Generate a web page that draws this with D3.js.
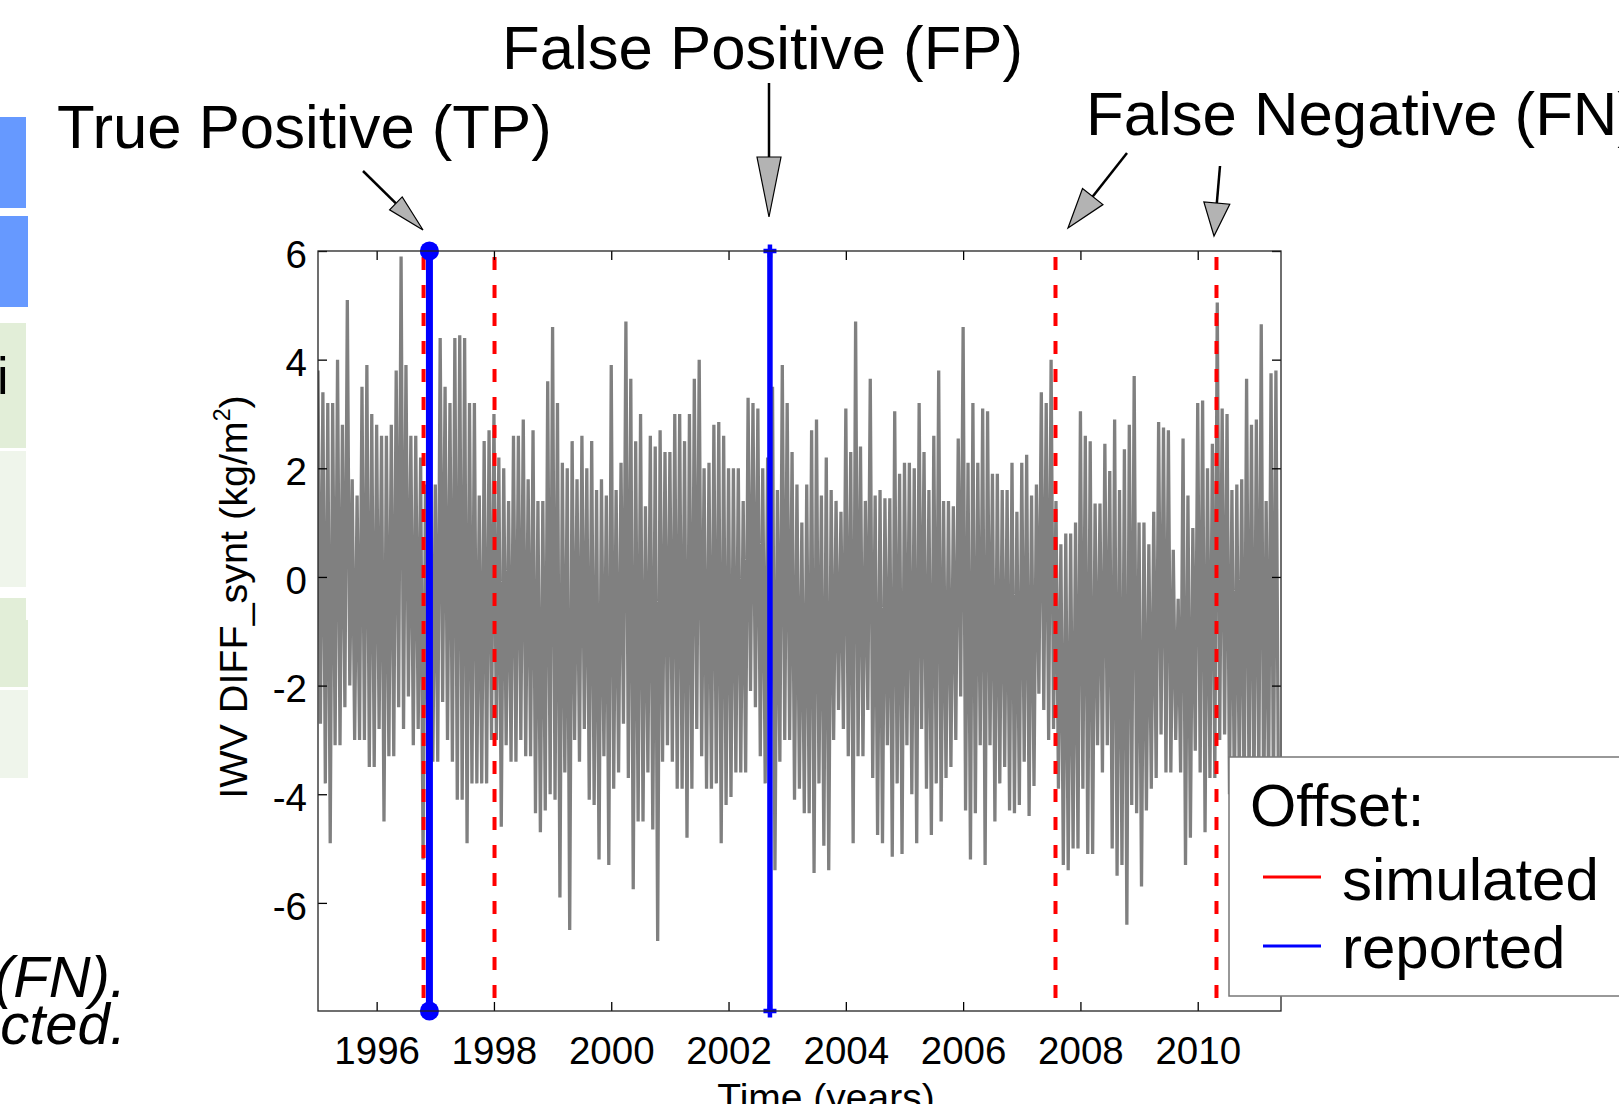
<!DOCTYPE html>
<html>
<head>
<meta charset="utf-8">
<script src="https://cdn.jsdelivr.net/npm/d3@7"></script>
<style>
    body { margin: 0; background: #fff; overflow: hidden; }
    svg { display: block; font-family: "Liberation Sans", Arial, Helvetica, sans-serif; }
</style>
</head>
<body>
<svg id="chart" width="1619" height="1104"></svg>
<script>
// monthly max / min of the synthetic IWV difference series, Jan 1995 onwards
var startYear = 1995;
var monthHigh = [
    3.8, 3.4, 3.2, 3.2, 4.0, 2.8, 5.1, 1.8, 1.5, 3.5,
    3.9, 3.0, 2.8, 2.6, 2.6, 2.8, 3.8, 5.9, 3.9, 2.6,
    2.6, 2.2, 1.7, 1.7, 1.7, 4.4, 3.5, 3.2, 4.4, 4.45,
    4.4, 3.2, 3.2, 1.5, 2.5, 2.7, 3.0, 2.2, 2.0, 1.4,
    2.6, 2.6, 2.9, 1.8, 2.7, 1.4, 1.4, 3.6, 4.6, 3.2,
    2.1, 2.0, 2.5, 1.8, 2.6, 2.0, 2.5, 1.6, 1.8, 1.5,
    3.9, 1.6, 2.1, 4.7, 3.65, 2.5, 3.0, 1.3, 2.6, 2.4,
    2.7, 2.3, 2.3, 3.0, 3.0, 2.5, 3.0, 3.65, 4.0, 2.0,
    2.1, 2.8, 2.85, 2.6, 2.0, 2.0, 2.0, 1.4, 3.3, 3.2,
    3.1, 2.0, 2.2, 3.5, 1.6, 3.9, 3.2, 2.3, 1.7, 1.0,
    1.7, 2.7, 2.9, 1.5, 2.2, 1.6, 1.4, 1.2, 3.1, 2.3,
    4.7, 2.4, 1.4, 3.65, 1.5, 1.6, 1.45, 1.45, 3.05, 1.9,
    2.1, 2.1, 2.0, 3.2, 2.3, 1.6, 2.6, 3.8, 1.4, 1.4,
    1.3, 2.55, 4.6, 2.1, 3.2, 2.1, 3.1, 3.05, 1.9, 1.9,
    1.6, 1.6, 2.1, 1.2, 2.1, 2.25, 1.5, 1.7, 3.4, 3.2,
    4.0, 1.4, 0.6, 0.8, 0.8, 1.0, 3.05, 2.6, 2.5, 1.35,
    1.35, 2.45, 1.95, 2.9, 1.6, 2.35, 2.8, 3.7, 1.0, 1.0,
    0.6, 1.2, 2.85, 2.75, 2.7, 0.5, -0.4, 2.55, 1.5, 0.9,
    3.2, 3.25, 2.0, 2.45, 5.05, 3.1, 3.0, 1.6, 1.7, 1.8,
    3.65, 2.8, 2.9, 4.65, 1.4, 3.75, 3.8
];
var monthLow = [
    -2.7, -3.8, -4.9, -3.1, -3.1, -2.4, -2.0, -3.0, -3.0, -3.0,
    -3.5, -3.5, -2.8, -4.5, -3.3, -3.3, -2.4, -2.8, -2.2, -3.1,
    -2.8, -5.2, -3.3, -3.4, -3.4, -2.3, -3.0, -3.4, -4.1, -4.1,
    -4.9, -3.8, -3.8, -3.8, -3.8, -3.0, -3.0, -4.6, -3.1, -3.4,
    -3.4, -3.0, -3.3, -3.3, -4.35, -4.7, -4.3, -4.0, -4.1, -5.9,
    -3.6, -6.5, -3.0, -3.4, -2.8, -4.1, -4.2, -5.2, -3.3, -5.3,
    -3.9, -3.6, -2.7, -3.7, -5.75, -4.5, -4.5, -3.6, -4.65, -6.7,
    -3.4, -3.1, -3.4, -3.9, -3.9, -4.8, -3.9, -2.8, -3.3, -3.9,
    -3.9, -3.8, -4.9, -4.2, -4.05, -3.6, -3.6, -3.6, -2.1, -2.4,
    -3.3, -3.8, -3.7, -5.4, -3.4, -3.0, -3.0, -4.1, -3.9, -4.35,
    -4.35, -5.45, -3.8, -4.95, -5.4, -3.0, -2.45, -2.8, -3.3, -4.9,
    -3.3, -3.3, -2.45, -3.7, -4.75, -4.9, -3.1, -5.15, -3.8, -5.1,
    -3.1, -4.0, -4.9, -2.8, -3.9, -4.75, -3.8, -4.5, -3.7, -3.5,
    -3.0, -2.2, -4.3, -5.2, -4.35, -3.1, -5.3, -3.1, -4.5, -3.8,
    -3.5, -4.3, -4.35, -4.2, -3.4, -4.4, -3.85, -2.15, -2.45, -3.0,
    -2.8, -3.9, -5.3, -5.4, -5.0, -5.0, -3.9, -5.1, -5.1, -3.1,
    -3.6, -3.1, -5.0, -5.5, -5.3, -6.4, -4.2, -4.35, -5.7, -4.3,
    -3.9, -3.7, -2.9, -3.6, -3.6, -3.0, -3.6, -5.3, -4.8, -3.2,
    -3.6, -4.7, -3.7, -3.7, -3.0, -2.9, -4.0, -4.2, -3.8, -4.4,
    -4.0, -4.3, -3.9, -4.5, -4.0, -4.2, -3.8
];

// offsets (decimal years)
var simulatedOffsets = [1996.8, 1998.01, 2007.575, 2010.32];
var reportedOffsets = [1996.9, 2002.706];
var reportedKind = ["TP", "FP"];

var xTicks = [1996, 1998, 2000, 2002, 2004, 2006, 2008, 2010];
var yTicks = [-6, -4, -2, 0, 2, 4, 6];
var legendLabels = ["simulated", "reported"];

var svg = d3.select("#chart");

// ---- left edge of the slide (cropped neighbour content) ----
var slideBoxes = [
    {x: 0, y: 117, w: 26, h: 91, c: "#6699ff"},
    {x: 0, y: 216, w: 28, h: 91, c: "#6699ff"},
    {x: 0, y: 323, w: 26, h: 125, c: "#e2eed8"},
    {x: 0, y: 451, w: 26, h: 136, c: "#eff5eb"},
    {x: 0, y: 598, w: 26, h: 22, c: "#e2eed8"},
    {x: 0, y: 620, w: 28, h: 67, c: "#e2eed8"},
    {x: 0, y: 690, w: 28, h: 88, c: "#eff5eb"}
];
svg.selectAll("rect.slide").data(slideBoxes).enter().append("rect")
    .attr("class", "slide")
    .attr("x", d => d.x).attr("y", d => d.y)
    .attr("width", d => d.w).attr("height", d => d.h)
    .attr("fill", d => d.c);
svg.append("text").attr("x", -3).attr("y", 394).attr("font-size", 52).text("i");
svg.append("text").attr("x", 126).attr("y", 997).attr("font-size", 58)
    .attr("font-style", "italic").attr("text-anchor", "end").text("(FN).");
svg.append("text").attr("x", 126).attr("y", 1044).attr("font-size", 58)
    .attr("font-style", "italic").attr("text-anchor", "end").text("cted.");

// ---- axes area ----
var plotL = 318, plotR = 1281, plotT = 251, plotB = 1011;
var x = d3.scaleLinear().domain([1995, 2011.42]).range([plotL, plotR]);
var y = d3.scaleLinear().domain([-7.99, 6]).range([plotB, plotT]);

svg.append("clipPath").attr("id", "plotclip").append("rect")
    .attr("x", plotL).attr("y", plotT).attr("width", plotR - plotL).attr("height", plotB - plotT);

// series: each month goes up to its max and down to its min
var pts = [];
for (var m = 0; m < monthHigh.length; m++) {
    var t = startYear + m / 12;
    pts.push([t, monthHigh[m]]);
    pts.push([t + 1 / 24, monthLow[m]]);
}
var line = d3.line().x(d => x(d[0])).y(d => y(d[1]));
svg.append("path")
    .attr("clip-path", "url(#plotclip)")
    .attr("d", line(pts))
    .attr("fill", "none")
    .attr("stroke", "#808080")
    .attr("stroke-width", 3.3)
    .attr("stroke-linejoin", "bevel");

// simulated offsets
svg.selectAll("line.sim").data(simulatedOffsets).enter().append("line")
    .attr("class", "sim")
    .attr("x1", d => x(d)).attr("x2", d => x(d))
    .attr("y1", y(6)).attr("y2", y(-7.99))
    .attr("stroke", "#ff0000").attr("stroke-width", 4)
    .attr("stroke-dasharray", "13,15").attr("stroke-dashoffset", -6);

// reported offsets
reportedOffsets.forEach(function (d, i) {
    var xx = x(d);
    var tp = reportedKind[i] == "TP";
    svg.append("line")
        .attr("x1", xx).attr("x2", xx).attr("y1", y(6)).attr("y2", y(-7.99))
        .attr("stroke", "#0000ff").attr("stroke-width", tp ? 7 : 5.5);
    [y(6), y(-7.99)].forEach(function (yy) {
        if (tp) {
            svg.append("circle").attr("cx", xx).attr("cy", yy).attr("r", 9.5).attr("fill", "#0000ff");
        } else {
            svg.append("path").attr("d", "M" + (xx - 6.5) + "," + yy + "h13M" + xx + "," + (yy - 6.5) + "v13")
                .attr("stroke", "#0000ff").attr("stroke-width", 4.5);
        }
    });
});

// ticks (inward, on all four sides, MATLAB style)
function styleAxis(g, labels) {
    g.select(".domain").remove();
    g.selectAll(".tick line").attr("stroke", "#000").attr("stroke-width", 1.3);
    if (!labels) g.selectAll(".tick text").remove();
    else g.selectAll(".tick text").attr("font-size", 38.5).attr("fill", "#000").attr("font-family", null);
}
svg.append("g").attr("transform", "translate(0," + plotB + ")")
    .call(d3.axisBottom(x).tickValues(xTicks).tickFormat(d3.format("d")).tickSizeInner(-9).tickSizeOuter(0).tickPadding(26))
    .call(g => styleAxis(g, true));
svg.append("g").attr("transform", "translate(0," + plotT + ")")
    .call(d3.axisTop(x).tickValues(xTicks).tickSizeInner(-9).tickSizeOuter(0))
    .call(g => styleAxis(g, false));
svg.append("g").attr("transform", "translate(" + plotL + ",0)")
    .call(d3.axisLeft(y).tickValues(yTicks).tickFormat(d3.format("d")).tickSizeInner(-9).tickSizeOuter(0).tickPadding(11))
    .call(g => styleAxis(g, true))
    .call(g => g.selectAll(".tick text").attr("dy", "0.42em").text(d => d < 0 ? "-" + (-d) : d));
svg.append("g").attr("transform", "translate(" + plotR + ",0)")
    .call(d3.axisRight(y).tickValues(yTicks).tickSizeInner(-9).tickSizeOuter(0))
    .call(g => styleAxis(g, false));

svg.append("rect")
    .attr("x", plotL).attr("y", plotT).attr("width", plotR - plotL).attr("height", plotB - plotT)
    .attr("fill", "none").attr("stroke", "#222").attr("stroke-width", 1.3);

// axis labels
var ylab = svg.append("text")
    .attr("transform", "translate(247,597) rotate(-90)")
    .attr("text-anchor", "middle").attr("font-size", 39.5);
ylab.append("tspan").text("IWV DIFF_synt (kg/m");
ylab.append("tspan").attr("font-size", 23).attr("dy", -17).text("2");
ylab.append("tspan").attr("dy", 17).text(")");

svg.append("text").attr("x", 826).attr("y", 1111).attr("text-anchor", "middle")
    .attr("font-size", 39).text("Time (years)");

// legend
svg.append("rect").attr("x", 1229).attr("y", 757).attr("width", 420).attr("height", 239)
    .attr("fill", "#fff").attr("stroke", "#777").attr("stroke-width", 1.5);
svg.append("text").attr("x", 1250).attr("y", 826).attr("font-size", 59.5).text("Offset:");
var legendColors = ["#ff0000", "#0000ff"];
legendLabels.forEach(function (lab, i) {
    var yy = 877 + i * 69;
    svg.append("line").attr("x1", 1263).attr("x2", 1321).attr("y1", yy).attr("y2", yy)
        .attr("stroke", legendColors[i]).attr("stroke-width", 3);
    svg.append("text").attr("x", 1342).attr("y", 900 + i * 68).attr("font-size", 60).text(lab);
});

// annotations
function arrow(x1, y1, x2, y2, hl, hw) {
    var dx = x2 - x1, dy = y2 - y1, L = Math.hypot(dx, dy), ux = dx / L, uy = dy / L;
    var bx = x2 - ux * hl, by = y2 - uy * hl;
    svg.append("line").attr("x1", x1).attr("y1", y1).attr("x2", bx).attr("y2", by)
        .attr("stroke", "#000").attr("stroke-width", 2.5);
    svg.append("path")
        .attr("d", "M" + x2 + "," + y2 + "L" + (bx - uy * hw) + "," + (by + ux * hw) +
            "L" + (bx + uy * hw) + "," + (by - ux * hw) + "Z")
        .attr("fill", "#b3b3b3").attr("stroke", "#000").attr("stroke-width", 1.2);
}
svg.append("text").attr("x", 502).attr("y", 69).attr("font-size", 61.7).text("False Positive (FP)");
svg.append("text").attr("x", 57).attr("y", 148).attr("font-size", 61.7).text("True Positive (TP)");
svg.append("text").attr("x", 1086).attr("y", 135).attr("font-size", 61.7).text("False Negative (FN)");
arrow(363, 171, 423, 230, 38, 9);
arrow(769, 83, 769, 217, 60, 12);
arrow(1127, 153, 1068, 228, 40, 13);
arrow(1220, 166, 1214, 236, 33, 13);
</script>
</body>
</html>
